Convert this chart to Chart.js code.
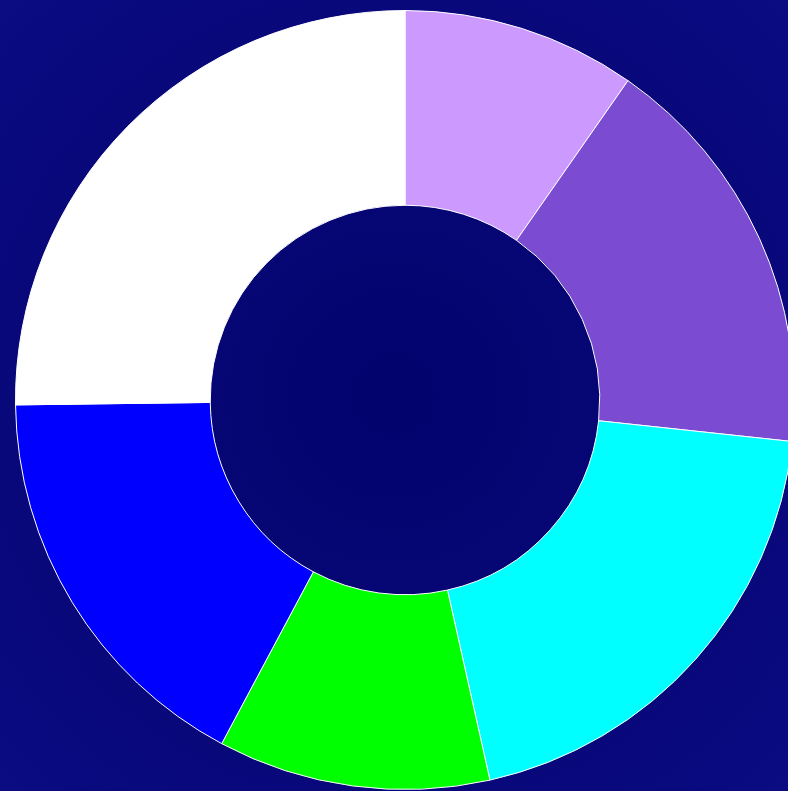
<!DOCTYPE html>
<html lang="en">
<head>
    <meta charset="UTF-8" />
    <title>Doughnut</title>
    <script src="https://cdn.jsdelivr.net/npm/chart.js"></script>
    <style>
        html, body {
            margin: 0;
            width: 788px;
            height: 791px;
            overflow: hidden;
            background: radial-gradient(circle at 50% 50%, #03036e 0%, #070778 55%, #0b0b82 100%);
        }

        #wrap {
            position: absolute;
            left: 15px;
            top: 10px;
            width: 780px;
            height: 780px;
        }
    </style>
</head>
<body>
    <div id="wrap"><canvas id="chart"></canvas></div>

    <script>
        const labels = ["A", "B", "C", "D", "E", "F"];
        const values = [9.7, 17.0, 19.8, 11.3, 17.0, 25.2];
        const colors = ["#cc99ff", "#7b4cd2", "#00ffff", "#00ff00", "#0000ff", "#ffffff"];

        new Chart(document.getElementById("chart"), {
            type: "doughnut",
            data: {
                labels: labels,
                datasets: [{
                    data: values,
                    backgroundColor: colors,
                    borderColor: "#ffffff",
                    borderWidth: 1,
                    hoverOffset: 0
                }]
            },
            options: {
                responsive: true,
                maintainAspectRatio: false,
                animation: false,
                cutout: "50%",
                layout: { padding: 0 },
                plugins: {
                    legend: { display: false },
                    tooltip: { enabled: false }
                }
            }
        });
    </script>
</body>
</html>
